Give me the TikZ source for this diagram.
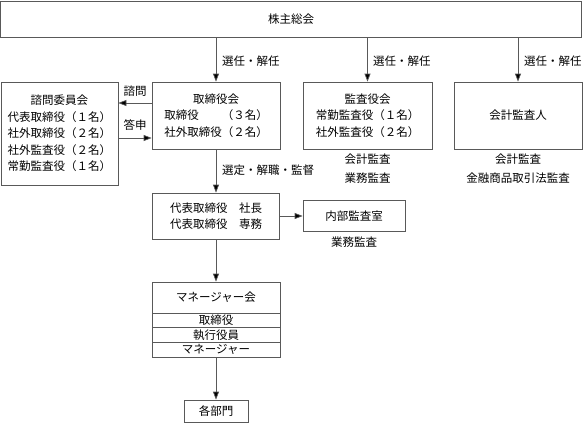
\documentclass[tikz,border=0pt]{standalone}
\usepackage{fontspec}
\newfontfamily\jpfont{Noto Sans CJK JP}
\usetikzlibrary{arrows.meta}

\begin{document}
\begin{tikzpicture}[x=1pt,y=-1pt,
      box/.style={draw=black!65,line width=0.7pt,fill=white,inner sep=0pt,
        align=center,font={\jpfont\fontsize{11.5}{16.5}\selectfont}},
      lbl/.style={inner sep=0pt,align=center,
        font={\jpfont\fontsize{11.5}{18.5}\selectfont}},
      arr/.style={draw=black!65,line width=0.7pt,
        -{Triangle[width=6pt,length=8pt,fill=black]}}]
      \useasboundingbox (0,0) rectangle (583,431);
      % shareholders
      \node[box,minimum width=581pt,minimum height=36pt] (soukai) at (291,19) {株主総会};
      % second row
      \node[box,minimum width=117pt,minimum height=103pt] (shimon) at (59.5,133.5)
        {諮問委員会\\代表取締役（１名）\\社外取締役（２名）\\社外監査役（２名）\\常勤監査役（１名）};
      \node[box,minimum width=128pt,minimum height=67pt] (torishimari) at (216,115.5)
        {取締役会\\取締役\hspace*{2em}（３名）\\社外取締役（２名）};
      \node[box,minimum width=129pt,minimum height=67pt] (kansa) at (367.5,115.5)
        {監査役会\\常勤監査役（１名）\\社外監査役（２名）};
      \node[box,minimum width=128pt,minimum height=67pt] (kaikei) at (518,115.5) {会計監査人};
      \draw[arr] (torishimari.north |- soukai.south) -- (torishimari.north);
      \draw[arr] (kansa.north |- soukai.south) -- (kansa.north);
      \draw[arr] (kaikei.north |- soukai.south) -- (kaikei.north);
      \node[lbl,anchor=west] (sennin1) at (222,61) {選任・解任};
      \node[lbl,anchor=west] (sennin2) at (373,61) {選任・解任};
      \node[lbl,anchor=west] (sennin3) at (524,61) {選任・解任};
      % advisory committee
      \coordinate (q1) at ([yshift=12.5pt]torishimari.west);
      \coordinate (q2) at ([yshift=-4.5pt]shimon.east);
      \draw[arr] (q1) -- (q1 -| shimon.east);
      \draw[arr] (q2) -- (q2 -| torishimari.west);
      \node[lbl] (shimonlbl) at (135,91) {諮問};
      \node[lbl] (toushin) at (135,125) {答申};
      \node[lbl] (kansalbl) at (367.5,168.5) {会計監査\\業務監査};
      \node[lbl] (kaikeilbl) at (518,168.5) {会計監査\\金融商品取引法監査};
      % representative directors
      \node[box,minimum width=127pt,minimum height=46pt] (daihyo) at (216,216)
        {代表取締役\hspace*{1em}社長\\代表取締役\hspace*{1em}専務};
      \node[box,minimum width=102pt,minimum height=31pt] (naibu) at (354,216) {内部監査室};
      \draw[arr] (torishimari) -- (daihyo);
      \node[lbl,anchor=west] (sentei) at (222,170) {選定・解職・監督};
      \draw[arr] (daihyo) -- (naibu);
      \node[lbl] (naibulbl) at (354,242) {業務監査};
      % managers
      \node[box,minimum width=128pt,minimum height=31pt] (mgr) at (216,297.5) {マネージャー会};
      \node[box,minimum width=128pt,minimum height=14pt] (row1) at (216,320.5) {取締役};
      \node[box,minimum width=128pt,minimum height=15pt] (row2) at (216,335) {執行役員};
      \node[box,minimum width=128pt,minimum height=14.5pt] (row3) at (216,349.75) {マネージャー};
      \draw[arr] (daihyo) -- (mgr);
      \node[box,minimum width=64pt,minimum height=22pt] (kakubu) at (216,411) {各部門};
      \draw[arr] (row3) -- (kakubu);
\end{tikzpicture}
\end{document}
